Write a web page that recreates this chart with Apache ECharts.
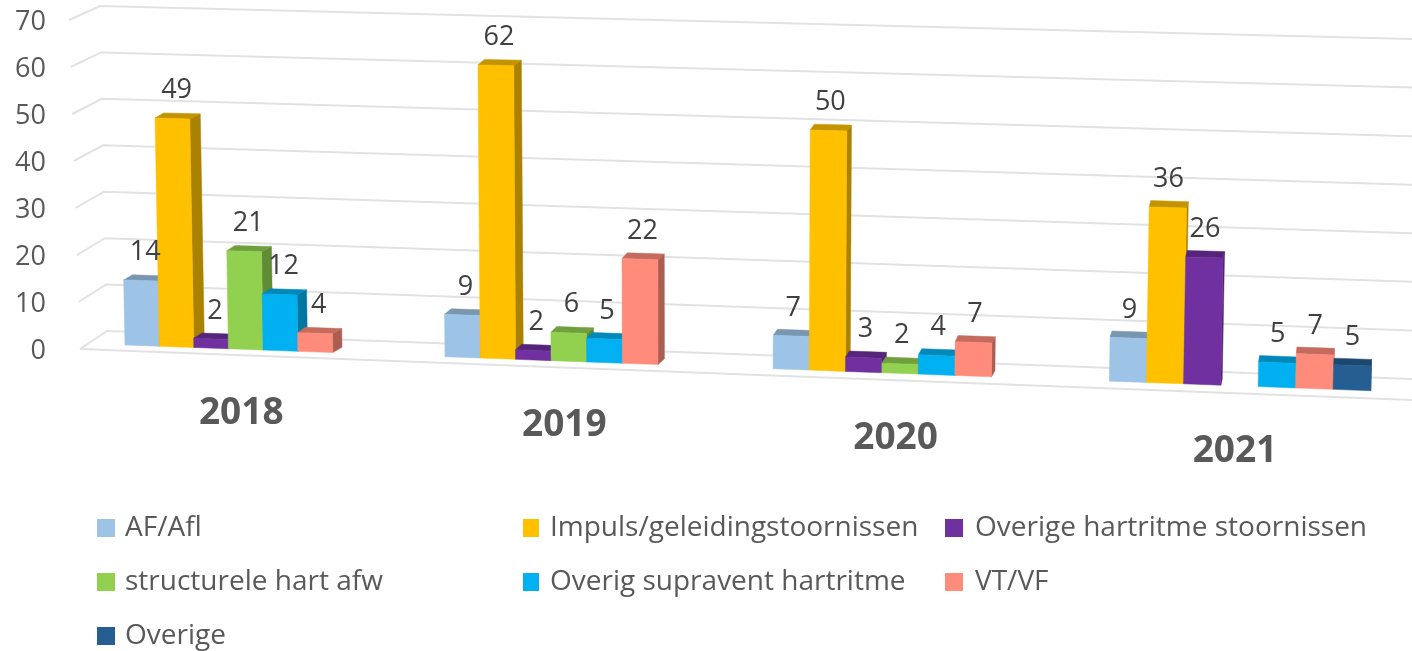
<!DOCTYPE html>
<html>
<head>
<meta charset="utf-8">
<style>html,body{margin:0;padding:0;background:#fff}#c{width:1412px;height:651px}</style>
<script src="https://cdn.jsdelivr.net/npm/echarts@6/dist/echarts.min.js"></script>
</head>
<body>
<div id="c"></div>
<script>
const years = ['2018', '2019', '2020', '2021'];
const yTicks = [0, 10, 20, 30, 40, 50, 60, 70];
const afAfl = [14, 9, 7, 9];
const impuls = [49, 62, 50, 36];
const overigeHartritme = [2, 2, 3, 26];
const structurele = [21, 6, 2, null];
const overigSupravent = [12, 5, 4, 5];
const vtVf = [4, 22, 7, 7];
const overige = [null, null, null, 5];

const FONT = '"Open Sans", sans-serif';

// perspective projection of the flat cartesian grid
const warpX = u => 87.24 + 0.9544 * u + 3.74e-5 * u * u;
const baseY = x => 345 + (x - 125) * 0.0367;
const scaleK = x => 4.65 + (x - 125) * 0.00022;
const leanK = x => (x - 700) * 0.000035;
function project(plainX, h, unit) {
  const xb = warpX(plainX - 80);
  const H = h / unit * scaleK(xb);
  return [xb + leanK(xb) * H, baseY(xb) - H];
}
function shade(hex, f) {
  const n = parseInt(hex.slice(1), 16);
  const c = s => Math.round(((n >> s) & 255) * f);
  return 'rgb(' + c(16) + ',' + c(8) + ',' + c(0) + ')';
}
const seriesDefs = [
  ['AF/Afl', afAfl, '#9DC3E6'],
  ['Impuls/geleidingstoornissen', impuls, '#FFC000'],
  ['Overige hartritme stoornissen', overigeHartritme, '#7030A0'],
  ['structurele hart afw', structurele, '#92D050'],
  ['Overig supravent hartritme', overigSupravent, '#00B0F0'],
  ['VT/VF', vtVf, '#FF8B7A'],
  ['Overige', overige, '#255E91']
];
function barRenderer(j, color) {
  return function (params, api) {
    const i = api.value(0), v = api.value(1);
    const b = api.coord([i, 0]), t = api.coord([i, v]);
    const slot = api.size([1, 0])[0] / 9.2;
    const unit = api.size([0, 1])[1];
    const h = b[1] - t[1];
    const uL = b[0] + (j - 3.5) * slot, uR = uL + slot;
    const L0 = project(uL, 0, unit), R0 = project(uR, 0, unit);
    const Lh = project(uL, h, unit), Rh = project(uR, h, unit);
    const dxOf = x => Math.max(0, 10.5 - (x - 190) * 0.0088);
    const dy = -(5 + (Rh[0] - 125) * 0.0013);
    const dxR = dxOf(Rh[0]), dxL = dxOf(Lh[0]) * 0.8;
    const poly = (pts, fill) => ({
      type: 'polygon', shape: { points: pts },
      style: { fill: fill, stroke: fill, lineWidth: 0.5 }
    });
    return {
      type: 'group',
      children: [
        poly([R0, Rh, [Rh[0] + dxR, Rh[1] + dy], [R0[0] + dxR, R0[1] + dy]], shade(color, 0.67)),
        poly([Lh, Rh, [Rh[0] + dxR, Rh[1] + dy], [Lh[0] + dxL, Lh[1] + dy]], shade(color, 0.77)),
        poly([L0, R0, Rh, Lh], color),
        {
          type: 'text', z2: 100,
          x: (Lh[0] + Rh[0]) / 2 + dxR * 0.4, y: (Lh[1] + Rh[1]) / 2 - 28,
          style: { text: String(v), font: '27px ' + FONT, fill: '#404040', align: 'center', verticalAlign: 'middle' }
        }
      ]
    };
  };
}
function gridRenderer(params, api) {
  const v = api.value(1);
  const lerp = (a, b, t) => a + (b - a) * t;
  const t = v / 70;
  const wallLeft = [lerp(107, 100, t), lerp(331, 6, t)];
  const wallRight = [1412, lerp(379, 39, t)];
  const wing = [lerp(80, 69, t), wallLeft[1] + lerp(18, 14, t)];
  const st = { stroke: '#E2E2E2', lineWidth: 2, fill: null };
  const children = [{ type: 'polyline', shape: { points: [wing, wallLeft, wallRight] }, style: st }];
  if (v === 0) {
    children.push({ type: 'polyline', shape: { points: [wing, [1412, 400]] }, style: st });
  }
  return { type: 'group', children: children };
}
function yearRenderer(params, api) {
  const i = api.value(0);
  const c = api.coord([i, 0]);
  const x = warpX(c[0] - 80) - 4.5;
  return {
    type: 'text', x: x, y: 413 + (x - 241) * 0.0383,
    style: { text: years[i], font: 'bold 37px ' + FONT, fill: '#595959', align: 'center', verticalAlign: 'middle' }
  };
}
const legendStyle = (left, names, w, pad) => ({
  left: left, top: 514, height: 150, orient: 'vertical', itemWidth: w, itemHeight: 18, itemGap: 26,
  icon: 'rect', padding: 0,
  textStyle: { fontFamily: FONT, fontSize: 28, color: '#595959', padding: [0, 0, 0, pad] },
  data: names
});
const chart = echarts.init(document.getElementById('c'), null, { renderer: 'canvas' });
chart.setOption({
  animation: false,
  backgroundColor: '#fff',
  grid: { left: 80, width: 1320, top: 22, height: 329 },
  xAxis: { type: 'category', data: years, axisLabel: { show: false }, axisLine: { show: false }, axisTick: { show: false } },
  yAxis: {
    type: 'value', min: 0, max: 70, interval: 10,
    axisLine: { show: false }, axisTick: { show: false }, splitLine: { show: false },
    axisLabel: { margin: 34, fontFamily: FONT, fontSize: 27, color: '#595959' }
  },
  legend: [
    legendStyle(97, ['AF/Afl', 'structurele hart afw', 'Overige'], 18, 5),
    legendStyle(523, ['Impuls/geleidingstoornissen', 'Overig supravent hartritme'], 16, 6),
    legendStyle(945, ['Overige hartritme stoornissen', 'VT/VF'], 18, 7)
  ],
  series: [
    {
      type: 'custom', name: 'grid', silent: true, z: 1, clip: false,
      data: yTicks.map(v => [0, v]), renderItem: gridRenderer
    },
    {
      type: 'custom', name: 'years', silent: true, z: 1, clip: false,
      data: years.map((y, i) => [i, 0]), renderItem: yearRenderer
    }
  ].concat(seriesDefs.map((d, j) => ({
    type: 'custom', name: d[0], z: 2, clip: false,
    itemStyle: { color: d[2] },
    data: d[1].map((v, i) => (v === null ? null : [i, v])).filter(Boolean),
    renderItem: barRenderer(j, d[2])
  })))
});
</script>
</body>
</html>
